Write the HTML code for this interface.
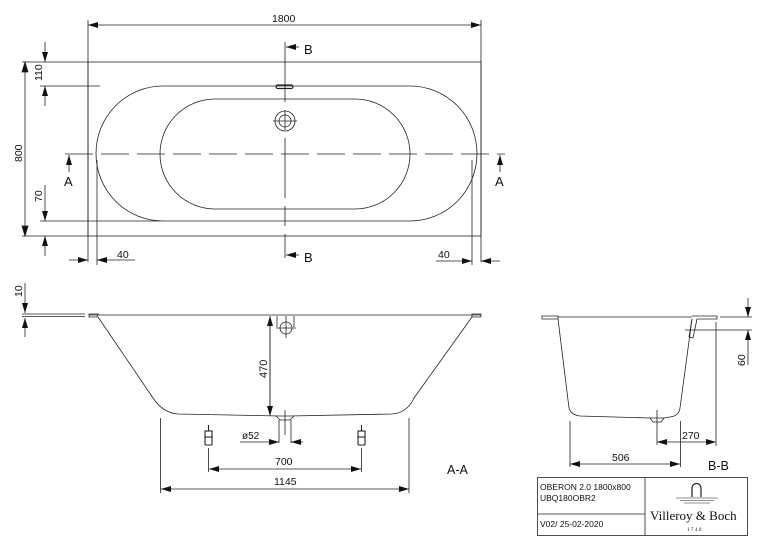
<!DOCTYPE html>
<html><head><meta charset="utf-8"><style>
html,body{margin:0;padding:0;background:#fff;}
svg{display:block;}
text{font-family:"Liberation Sans",sans-serif;fill:#111;}
</style></head><body>
<svg width="765" height="550" viewBox="0 0 765 550" xmlns="http://www.w3.org/2000/svg">
<defs>
<marker id="ar" viewBox="0 0 10 6" refX="10" refY="3" markerWidth="10" markerHeight="6" markerUnits="userSpaceOnUse" orient="auto"><path d="M0,0 L10,3 L0,6 z" fill="#111"/></marker>
</defs>
<g stroke="#222" stroke-width="0.8" fill="none">
<!-- TOP VIEW -->
<rect x="88" y="62" width="393" height="174"/>
<line x1="88" y1="20" x2="88" y2="262"/>
<line x1="481" y1="20" x2="481" y2="262"/>
<line x1="285" y1="25" x2="88" y2="25" marker-end="url(#ar)"/>
<line x1="285" y1="25" x2="481" y2="25" marker-end="url(#ar)"/>
<path d="M163,86 H410 A67,67.5 0 0 1 410,221 H163 A67,67.5 0 0 1 163,86 Z"/>
<path d="M215,99 H355 A55,55 0 0 1 355,209 H215 A55,55 0 0 1 215,99 Z"/>
<line x1="65" y1="154" x2="505" y2="154" stroke-dasharray="28,8"/>
<line x1="285" y1="42" x2="285" y2="258" stroke-dasharray="60,8,20,8"/>
<rect x="276" y="85" width="17" height="3.5" rx="1.7" stroke-width="1.2"/>
<circle cx="285" cy="121" r="10"/><circle cx="285" cy="121" r="6"/>
<line x1="273" y1="121" x2="297" y2="121"/>
<line x1="299" y1="47" x2="286" y2="47" marker-end="url(#ar)"/>
<line x1="299" y1="255" x2="286" y2="255" marker-end="url(#ar)"/>
<line x1="69" y1="172" x2="69" y2="155" marker-end="url(#ar)"/>
<line x1="500" y1="172" x2="500" y2="155" marker-end="url(#ar)"/>
<line x1="22" y1="62" x2="88" y2="62"/>
<line x1="22" y1="236" x2="88" y2="236"/>
<line x1="40" y1="86" x2="100" y2="86"/>
<line x1="40" y1="221" x2="160" y2="221"/>
<line x1="25" y1="62" x2="25" y2="236"/>
<path d="M22,72 L25,62 L28,72z M22,226 L25,236 L28,226z" fill="#111"/>
<line x1="45" y1="42" x2="45" y2="62" marker-end="url(#ar)"/>
<line x1="45" y1="106" x2="45" y2="86" marker-end="url(#ar)"/>
<line x1="45" y1="185" x2="45" y2="221" marker-end="url(#ar)"/>
<line x1="45" y1="256" x2="45" y2="236" marker-end="url(#ar)"/>
<line x1="97" y1="160" x2="97" y2="265"/>
<line x1="472" y1="160" x2="472" y2="265"/>
<line x1="69" y1="260" x2="88" y2="260" marker-end="url(#ar)"/>
<line x1="135" y1="260" x2="97" y2="260" marker-end="url(#ar)"/>
<line x1="436" y1="261" x2="472" y2="261" marker-end="url(#ar)"/>
<line x1="500" y1="261" x2="481" y2="261" marker-end="url(#ar)"/>

<!-- SECTION A-A -->
<line x1="22" y1="314" x2="85" y2="314"/><line x1="22" y1="316.5" x2="85" y2="316.5"/>
<line x1="25" y1="283" x2="25" y2="313" marker-end="url(#ar)"/>
<line x1="25" y1="337" x2="25" y2="318" marker-end="url(#ar)"/>
<line x1="89" y1="315" x2="481" y2="315"/>
<path d="M89,314 H98 L97,317 H89Z M472,314 H481 V317 H472Z"/>
<path d="M98,317 L153,398 Q163,413 178,414 L280,416 L290,416 L392,414 Q407,413 414,398 L472,317"/>
<line x1="270" y1="410" x2="270" y2="316" marker-end="url(#ar)"/>
<line x1="270" y1="322" x2="270" y2="416" marker-end="url(#ar)"/>
<circle cx="286" cy="328" r="6"/>
<path d="M277,316 V327 M294,316 V327 M276,328 H296 M286,316 V338"/>
<path d="M276,416 L280,420 H290 L294,416 M279,420 V443 M291,420 V443 M285,410 V435"/>
<line x1="240" y1="442" x2="279" y2="442" marker-end="url(#ar)"/>
<line x1="303" y1="442" x2="291" y2="442" marker-end="url(#ar)"/>
<g stroke-width="1.1">
<rect x="205" y="431" width="7" height="6"/><rect x="205" y="437" width="7" height="8" rx="1"/>
<line x1="208.5" y1="425" x2="208.5" y2="431"/>
<rect x="358" y="431" width="7" height="6"/><rect x="358" y="437" width="7" height="8" rx="1"/>
<line x1="361.5" y1="425" x2="361.5" y2="431"/>
</g>
<line x1="208.5" y1="448" x2="208.5" y2="472"/>
<line x1="361.5" y1="448" x2="361.5" y2="472"/>
<line x1="285" y1="469" x2="209" y2="469" marker-end="url(#ar)"/>
<line x1="285" y1="469" x2="361" y2="469" marker-end="url(#ar)"/>
<line x1="160.5" y1="418" x2="160.5" y2="493"/>
<line x1="409" y1="418" x2="409" y2="493"/>
<line x1="285" y1="489" x2="161" y2="489" marker-end="url(#ar)"/>
<line x1="285" y1="489" x2="409" y2="489" marker-end="url(#ar)"/>

<!-- SECTION B-B -->
<path d="M542,316 H558 V319 H542Z M692,316 H717 V319 H697"/>
<line x1="558" y1="317" x2="692" y2="317"/>
<path d="M558,319 L569,408 Q571,415 580,416 L650,418 L664,418 L670,417 Q679,416 680,408 L692,319"/>
<path d="M692,319 L689,337 L693,338 L697,319"/>
<path d="M650,418 L653,422 H661 L664,418 M657,410 V445"/>
<line x1="720" y1="317" x2="752" y2="317"/>
<line x1="685" y1="330" x2="752" y2="330"/>
<line x1="748" y1="298" x2="748" y2="317" marker-end="url(#ar)"/>
<line x1="748" y1="365" x2="748" y2="330" marker-end="url(#ar)"/>
<line x1="716" y1="322" x2="716" y2="446"/>
<line x1="686" y1="442" x2="657" y2="442" marker-end="url(#ar)"/>
<line x1="686" y1="442" x2="716" y2="442" marker-end="url(#ar)"/>
<line x1="570" y1="421" x2="570" y2="467"/>
<line x1="680.5" y1="421" x2="680.5" y2="467"/>
<line x1="625" y1="464" x2="570" y2="464" marker-end="url(#ar)"/>
<line x1="625" y1="464" x2="680" y2="464" marker-end="url(#ar)"/>

<!-- TITLE BLOCK -->
<rect x="537.5" y="477.5" width="210" height="58"/>
<line x1="645" y1="477.5" x2="645" y2="535.5"/>
<line x1="537.5" y1="514" x2="645" y2="514"/>
<path d="M692,497 V488 A4.5,4.5 0 0 1 701,488 V497" stroke-width="1.2"/>
<path d="M676,498 H718 M680,500.5 H714 M684,503 H710" stroke-width="0.6"/>
</g>
<g font-size="11">
<text x="272" y="22" font-size="10.5">1800</text>
<text x="304" y="54" font-size="13">B</text>
<text x="304" y="262" font-size="13">B</text>
<text x="64" y="186" font-size="13">A</text>
<text x="495" y="186" font-size="13">A</text>
<text x="117" y="258" font-size="10.5">40</text>
<text x="438" y="258" font-size="10.5">40</text>
<text transform="translate(42,81) rotate(-90)" font-size="10.5">110</text>
<text transform="translate(42,202) rotate(-90)" font-size="10.5">70</text>
<text transform="translate(22,162) rotate(-90)" font-size="10.5">800</text>
<text transform="translate(22,297) rotate(-90)" font-size="10.5">10</text>
<text transform="translate(267,378) rotate(-90)" font-size="11">470</text>
<text x="242" y="439" font-size="10">ø52</text>
<text x="275" y="465" font-size="10.5">700</text>
<text x="274" y="485" font-size="10.5">1145</text>
<text x="447" y="474" font-size="12.5">A-A</text>
<text transform="translate(745,366) rotate(-90)" font-size="10.5">60</text>
<text x="682" y="439" font-size="10.5">270</text>
<text x="612" y="461" font-size="10.5">506</text>
<text x="708" y="470" font-size="12.5">B-B</text>
<text x="540" y="490" font-size="8.5">OBERON 2.0 1800x800</text>
<text x="540" y="501" font-size="8.5">UBQ180OBR2</text>
<text x="540" y="527" font-size="8.5">V02/ 25-02-2020</text>
<text x="650" y="520" font-size="13" style="font-family:'Liberation Serif',serif">Villeroy &amp; Boch</text>
<text x="687" y="531" font-size="5" letter-spacing="1.5" style="font-family:'Liberation Serif',serif">1748</text>
</g>
</svg>
</body></html>
